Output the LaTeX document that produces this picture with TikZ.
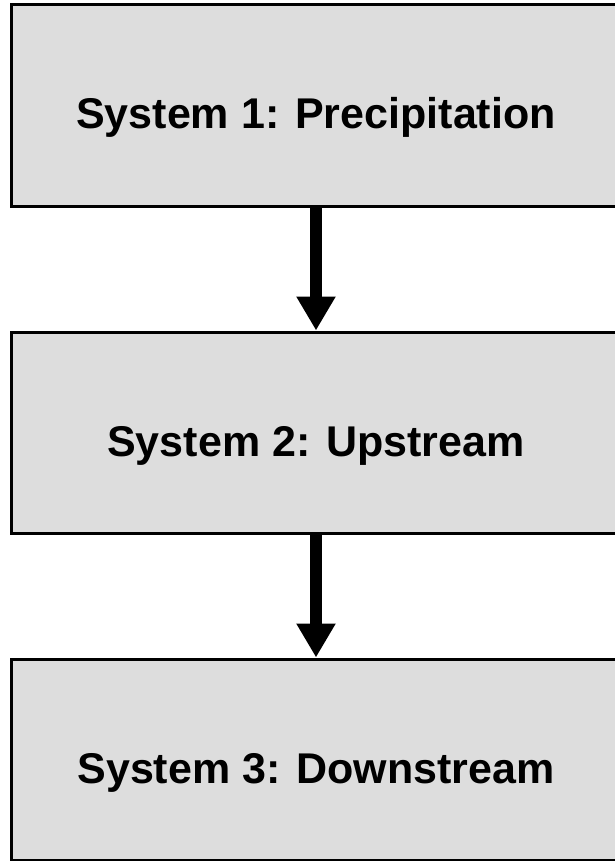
\documentclass[tikz,border=0pt]{standalone}
\usepackage{fontspec}
\setmainfont{Liberation Sans}
\usetikzlibrary{positioning,arrows.meta}
\definecolor{boxgray}{RGB}{221,221,221}

\begin{document}
\begin{tikzpicture}[
    x=1pt, y=-1pt,
    node distance=123pt,
    stage/.style={draw=black, line width=3pt, fill=boxgray, minimum width=610pt, minimum height=201pt, inner sep=0pt, text height=47pt, text depth=0pt, font=\fontsize{43}{50}\selectfont\bfseries},
    flow/.style={-{Triangle[width=37pt,length=34pt]}, line width=12pt, color=black}
]
    \useasboundingbox (0,0) rectangle (614,861);
    % Nodes
    \node [stage] (precip) at (316,105.5) {System 1: Precipitation};
    \node [stage, below=of precip] (upstream) {System 2: Upstream};
    \node [stage, below=of upstream] (downstream) {System 3: Downstream};

    % Paths
    \draw [flow] (precip) -- (upstream);
    \draw [flow] (upstream) -- (downstream);
\end{tikzpicture}
\end{document}
